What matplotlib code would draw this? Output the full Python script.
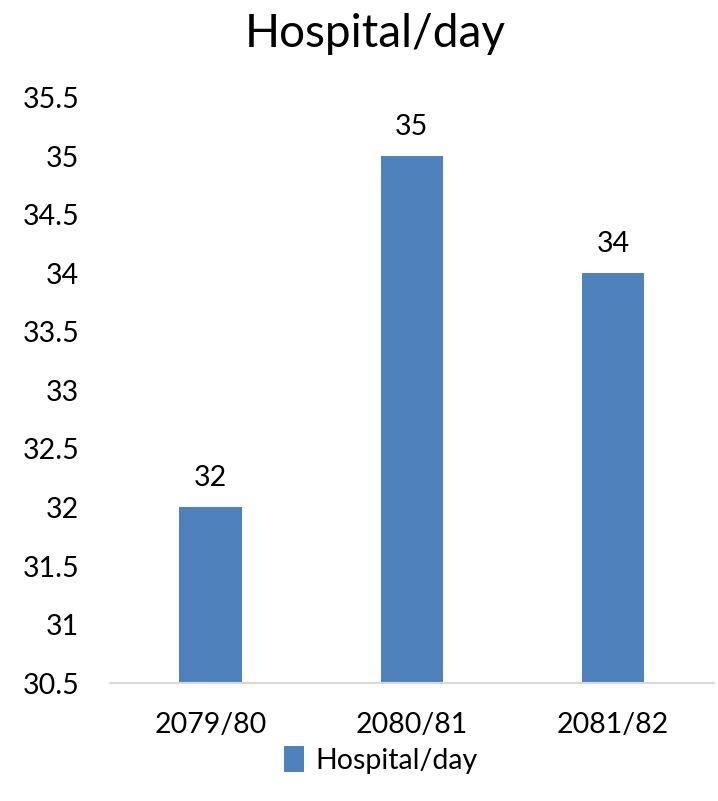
import numpy as np
import matplotlib.pyplot as plt

# data
years = ["2079/80", "2080/81", "2081/82"]
hospital_per_day = [32, 35, 34]
series_name = "Hospital/day"

plt.rcParams['font.family'] = ['Lato', 'DejaVu Sans']

fig = plt.figure(figsize=(7.18, 8.01), dpi=100)
ax = fig.add_axes([0.153, 0.1473, 0.841, 0.7304])

x = np.arange(len(years))
bars = ax.bar(x, hospital_per_day, width=0.31, color="#4F81BD", label=series_name, zorder=2)

# value labels above bars
for xi, v in zip(x, hospital_per_day):
    ax.text(xi, v + 0.14, str(v), ha="center", va="bottom", fontsize=20.5)

ax.set_xlim(-0.5, len(years) - 0.5)
ax.set_ylim(30.5, 35.5)
ax.set_yticks(np.arange(30.5, 35.51, 0.5))
ax.set_yticklabels([f"{t:g}" for t in np.arange(30.5, 35.51, 0.5)])
ax.set_xticks(x)
ax.set_xticklabels(years)
ax.tick_params(axis="both", length=0, labelsize=20.5)
ax.tick_params(axis="y", pad=22)
ax.tick_params(axis="x", pad=21)

for s in ["top", "right", "left"]:
    ax.spines[s].set_visible(False)
ax.spines["bottom"].set_color("#D9D9D9")
ax.spines["bottom"].set_linewidth(1.5)

fig.text(0.523, 0.958, "Hospital/day", ha="center", va="center", fontsize=33)

fig.legend(handles=[bars], labels=[series_name], loc="center", bbox_to_anchor=(0.53, 0.051),
           frameon=False, fontsize=20.5, handlelength=0.7, handleheight=1.0, handletextpad=0.4)

fig.savefig("out.png", dpi=100)
